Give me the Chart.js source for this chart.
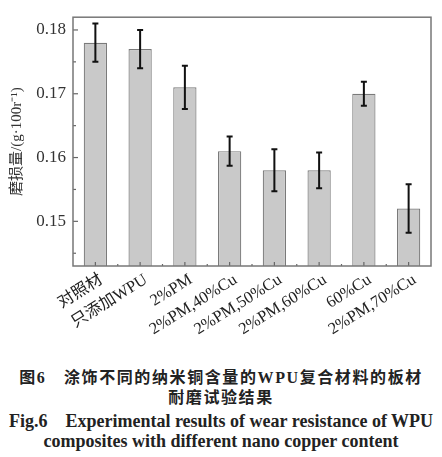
<!DOCTYPE html>
<html>
<head>
<meta charset="utf-8">
<script src="https://cdn.jsdelivr.net/npm/chart.js@4.4.1/dist/chart.umd.min.js"></script>
<style>
  html, body { margin: 0; padding: 0; background: #fff; }
  #wrap { position: relative; width: 442px; height: 457px; }
  #box { position: absolute; left: 0; top: 0; width: 442px; height: 350px; }
  .cap { position: absolute; left: 0; width: 442px; text-align: center; color: #222;
         font-family: "Liberation Serif", "Noto Sans CJK SC", serif; font-weight: bold;
         line-height: 20px; white-space: nowrap; }
  .zh { font-size: 16px; letter-spacing: 1.6px; }
  .en { font-size: 18px; }
</style>
</head>
<body>
<div id="wrap">
  <div id="box"><canvas id="wear"></canvas></div>
  <div class="cap zh" style="top:368px">图6　涂饰不同的纳米铜含量的WPU复合材料的板材</div>
  <div class="cap zh" style="top:388px">耐磨试验结果</div>
  <div class="cap en" style="top:411px">Fig.6&nbsp;&nbsp;&nbsp;&nbsp;Experimental results of wear resistance of WPU</div>
  <div class="cap en" style="top:431px">composites with different nano copper content</div>
</div>
<script>
const samples = ['对照材', '只添加WPU', '2%PM', '2%PM,40%Cu', '2%PM,50%Cu', '2%PM,60%Cu', '60%Cu', '2%PM,70%Cu'];
const wearLoss = [0.178, 0.177, 0.171, 0.161, 0.158, 0.158, 0.170, 0.152];
const wearErr = [0.003, 0.003, 0.0034, 0.0023, 0.0033, 0.0028, 0.0019, 0.0038];
const yTicks = [0.15, 0.16, 0.17, 0.18];

const serif = '"Liberation Serif", "Noto Sans CJK SC", serif';

// frame, inward ticks and error bars
const decor = {
  id: 'decor',
  afterDatasetsDraw(chart) {
    const ctx = chart.ctx;
    const a = chart.chartArea;
    const x = chart.scales.x;
    const y = chart.scales.y;
    ctx.save();

    ctx.strokeStyle = '#111';
    ctx.lineWidth = 2;
    wearLoss.forEach((v, i) => {
      const px = x.getPixelForValue(i);
      const top = y.getPixelForValue(v + wearErr[i]);
      const bot = y.getPixelForValue(v - wearErr[i]);
      ctx.beginPath();
      ctx.moveTo(px, top); ctx.lineTo(px, bot);
      ctx.moveTo(px - 3, top); ctx.lineTo(px + 3, top);
      ctx.moveTo(px - 3, bot); ctx.lineTo(px + 3, bot);
      ctx.stroke();
    });

    ctx.strokeStyle = '#666';
    ctx.lineWidth = 1.2;
    for (let v = 0.145; v < y.max; v += 0.005) {
      const py = y.getPixelForValue(v);
      const major = yTicks.some(t => Math.abs(t - v) < 1e-6);
      ctx.beginPath();
      ctx.moveTo(a.left, py); ctx.lineTo(a.left + (major ? 5 : 3), py);
      ctx.stroke();
    }
    samples.forEach((s, i) => {
      const px = x.getPixelForValue(i);
      ctx.beginPath();
      ctx.moveTo(px, a.bottom); ctx.lineTo(px, a.bottom - 4);
      const mx = px + (x.getPixelForValue(1) - x.getPixelForValue(0)) / 2;
      if (i < samples.length - 1) { ctx.moveTo(mx, a.bottom); ctx.lineTo(mx, a.bottom - 2); }
      ctx.stroke();
    });

    ctx.strokeStyle = '#777';
    ctx.lineWidth = 1.5;
    ctx.strokeRect(a.left, a.top, a.right - a.left, a.bottom - a.top);
    ctx.restore();
  }
};

new Chart(document.getElementById('wear'), {
  type: 'bar',
  data: {
    labels: samples,
    datasets: [{
      data: wearLoss,
      backgroundColor: '#c9c9c9',
      borderColor: '#7a7a7a',
      borderWidth: 1.2,
      barPercentage: 0.52,
      categoryPercentage: 1
    }]
  },
  options: {
    responsive: true,
    maintainAspectRatio: false,
    animation: false,
    layout: { padding: { left: 0, right: 11, top: 10, bottom: 0 } },
    plugins: { legend: { display: false }, tooltip: { enabled: false } },
    scales: {
      x: {
        grid: { display: false, drawTicks: false },
        border: { display: false },
        ticks: {
          color: '#222', font: { family: serif, size: 16.5 },
          maxRotation: 32, minRotation: 32, padding: 4, labelOffset: 6, autoSkip: false
        },
        afterFit(scale) { scale.height = 84; }
      },
      y: {
        min: 0.143,
        max: 0.182,
        grid: { display: false, drawTicks: false },
        border: { display: false },
        ticks: {
          stepSize: 0.01, includeBounds: false, padding: 7,
          color: '#333', font: { family: serif, size: 17 },
          callback: v => yTicks.some(t => Math.abs(t - v) < 1e-6) ? v.toFixed(2) : ''
        },
        title: {
          display: true, text: '磨损量/(g·100r⁻¹)', color: '#333',
          font: { family: serif, size: 15 }, padding: { top: 8, bottom: 0 }
        },
        afterFit(scale) { scale.width = 73; }
      }
    }
  },
  plugins: [decor]
});
</script>
</body>
</html>
